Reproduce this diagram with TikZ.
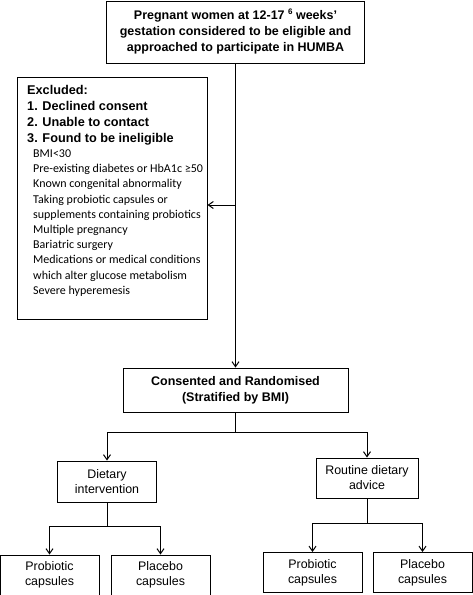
\documentclass[tikz,border=0pt]{standalone}
\usepackage{fontspec}
\setmainfont{Liberation Sans}
\newfontfamily\calib{Carlito}
\usetikzlibrary{arrows.meta}
\begin{document}
\begin{tikzpicture}[x=1pt,y=-1pt,
  box/.style={draw, line width=1pt, inner sep=0pt, align=center, font=\fontsize{12.4}{15}\selectfont},
  boldbox/.style={box, font=\fontsize{12.5}{16}\selectfont\bfseries},
  arr/.style={-{Straight Barb[length=5pt,width=7pt,line width=1pt]}, line width=1pt},
  mainarr/.style={-{Straight Barb[length=5pt,width=7pt,line width=1pt]}, line width=1.6pt},
  link/.style={line width=1pt},
  plain/.style={anchor=north west, inner sep=0pt, align=left}]
\useasboundingbox (0,0) rectangle (473,595);
% top box
\node[boldbox, minimum width=258pt, minimum height=62pt] (top) at (235.5,32)
  {Pregnant women at 12-17 \raisebox{5pt}{\fontsize{8}{8}\selectfont 6} weeks'\\gestation considered to be eligible and\\approached to participate in HUMBA};
% excluded box
\node[box, minimum width=190pt, minimum height=242pt] (excl) at (112,198) {};
\node[plain, font=\fontsize{12.7}{16}\selectfont\bfseries] (exhead) at (27,85)
  {Excluded:\\1. Declined consent\\2. Unable to contact\\3. Found to be ineligible};
\node[plain, font=\calib\fontsize{12}{15.2}\selectfont] (exlist) at (33,149.5)
  {BMI<30\\Pre-existing diabetes or HbA1c ≥50\\Known congenital abnormality\\Taking probiotic capsules or\\supplements containing probiotics\\Multiple pregnancy\\Bariatric surgery\\Medications or medical conditions\\which alter glucose metabolism\\Severe hyperemesis};
% consented
\node[boldbox, minimum width=225pt, minimum height=44pt] (cons) at (235.5,390)
  {Consented and Randomised\\(Stratified by BMI)};
% arms
\node[box, minimum width=99pt, minimum height=41pt] (diet) at (107,481.5) {Dietary\\intervention};
\node[box, minimum width=102pt, minimum height=40pt] (rout) at (367,478) {Routine dietary\\advice};
% leaves
\node[box, minimum width=99pt, minimum height=40pt] (p1) at (49.5,575) {Probiotic\\capsules};
\node[box, minimum width=99pt, minimum height=40pt] (q1) at (160.5,575) {Placebo\\capsules};
\node[box, minimum width=99pt, minimum height=40pt] (p2) at (312.5,572.5) {Probiotic\\capsules};
\node[box, minimum width=99pt, minimum height=40pt] (q2) at (422.5,572.5) {Placebo\\capsules};
% connectors
\coordinate (ex) at (235.5,205);
\draw[mainarr] (top.south) -- (cons.north);
\draw[arr] (ex) -- (excl.east |- ex);
\coordinate (j1) at (235.5,432);
\draw[link] (cons.south) -- (j1);
\draw[arr] (j1) -| (diet.north);
\draw[arr] (j1) -| (rout.north);
\coordinate (j2) at (107,526);
\draw[link] (diet.south) -- (j2);
\draw[arr] (j2) -| (p1.north);
\draw[arr] (j2) -| (q1.north);
\coordinate (j3) at (367,523);
\draw[link] (rout.south) -- (j3);
\draw[arr] (j3) -| (p2.north);
\draw[arr] (j3) -| (q2.north);
\end{tikzpicture}
\end{document}
